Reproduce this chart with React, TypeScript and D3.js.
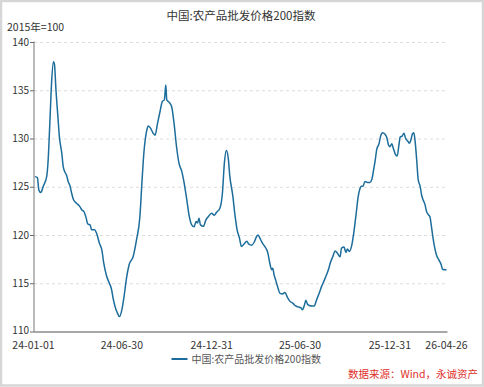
import React from "react";
import * as d3 from "d3";

const title = "中国:农产品批发价格200指数";
const unitLabel = "2015年=100";
const legendLabel = "中国:农产品批发价格200指数";
const sourceLabel = "数据来源：Wind，永诚资产";

const yTicks = [110, 115, 120, 125, 130, 135, 140];
const xTickDates = ["2024-01-01", "2024-06-30", "2024-12-31", "2025-06-30", "2025-12-31", "2026-04-26"];
const xTickLabels = ["24-01-01", "24-06-30", "24-12-31", "25-06-30", "25-12-31", "26-04-26"];

const dates = [
  "2024-01-04","2024-01-09","2024-01-12","2024-01-16","2024-01-21","2024-01-28","2024-01-31","2024-02-04","2024-02-07","2024-02-11",
  "2024-02-13","2024-02-16","2024-02-20","2024-02-23","2024-02-28","2024-03-02","2024-03-06","2024-03-09","2024-03-12","2024-03-16",
  "2024-03-19","2024-03-23","2024-03-29","2024-04-05","2024-04-09","2024-04-13","2024-04-18","2024-04-21","2024-04-26","2024-04-29",
  "2024-05-05","2024-05-09","2024-05-15","2024-05-20","2024-05-24","2024-05-30","2024-06-04","2024-06-09","2024-06-12","2024-06-16",
  "2024-06-21","2024-06-25","2024-06-30","2024-07-04","2024-07-10","2024-07-15","2024-07-23","2024-07-30","2024-08-06","2024-08-10",
  "2024-08-14","2024-08-20","2024-08-23","2024-08-28","2024-09-02","2024-09-06","2024-09-11","2024-09-16","2024-09-21","2024-09-25",
  "2024-09-28","2024-09-30","2024-10-05","2024-10-10","2024-10-15","2024-10-20","2024-10-25","2024-10-31","2024-11-04","2024-11-10",
  "2024-11-15","2024-11-20","2024-11-25","2024-11-29","2024-12-02","2024-12-05","2024-12-08","2024-12-14","2024-12-19","2024-12-24",
  "2024-12-31","2025-01-05","2025-01-10","2025-01-17","2025-01-22","2025-01-26","2025-01-30","2025-02-03","2025-02-06","2025-02-12",
  "2025-02-17","2025-02-21","2025-02-26","2025-03-02","2025-03-07","2025-03-13","2025-03-17","2025-03-23","2025-03-28","2025-04-02",
  "2025-04-05","2025-04-09","2025-04-14","2025-04-19","2025-04-25","2025-04-29","2025-05-03","2025-05-05","2025-05-08","2025-05-11",
  "2025-05-15","2025-05-20","2025-05-25","2025-05-30","2025-06-05","2025-06-09","2025-06-15","2025-06-21","2025-06-26","2025-07-02",
  "2025-07-05","2025-07-09","2025-07-12","2025-07-15","2025-07-19","2025-07-24","2025-07-29","2025-08-03","2025-08-08","2025-08-13",
  "2025-08-19","2025-08-23","2025-08-28","2025-08-30","2025-09-05","2025-09-10","2025-09-14","2025-09-20","2025-09-23","2025-09-28",
  "2025-10-02","2025-10-05","2025-10-09","2025-10-14","2025-10-18","2025-10-23","2025-10-27","2025-10-31","2025-11-03","2025-11-06",
  "2025-11-10","2025-11-15","2025-11-20","2025-11-24","2025-11-27","2025-12-01","2025-12-04","2025-12-09","2025-12-12","2025-12-16",
  "2025-12-21","2025-12-25","2025-12-28","2025-12-31","2026-01-04","2026-01-07","2026-01-12","2026-01-15","2026-01-19","2026-01-21",
  "2026-01-25","2026-01-29","2026-02-01","2026-02-06","2026-02-09","2026-02-12","2026-02-15","2026-02-18","2026-02-20","2026-02-24",
  "2026-02-27","2026-03-03","2026-03-06","2026-03-09","2026-03-13","2026-03-16","2026-03-20","2026-03-23","2026-03-27","2026-03-30",
  "2026-04-02","2026-04-06","2026-04-10","2026-04-15","2026-04-18","2026-04-23","2026-04-26"
];

const values = [
  126.1,126.0,124.7,124.45,125.1,126.1,127.8,132.3,135.8,138.0,
  137.7,135.1,132.3,130.25,128.5,127.1,126.5,126.2,125.6,125.1,
  124.4,123.7,123.35,123.0,122.65,122.5,121.8,121.2,121.1,120.6,
  120.6,120.25,119.2,118.5,117.1,115.75,115.1,114.4,113.5,112.65,
  111.95,111.6,112.3,113.5,115.75,117.0,117.8,119.55,122.0,125.4,
  128.5,130.9,131.35,131.1,130.6,130.4,131.6,132.8,133.9,134.05,
  135.6,134.05,133.8,133.35,131.6,129.2,127.5,126.6,125.6,123.7,
  122.0,121.1,120.9,121.45,121.3,121.8,121.1,120.95,121.6,121.95,
  122.3,122.1,122.4,122.85,124.4,127.5,128.8,128.0,126.2,124.2,
  122.0,120.6,119.7,118.85,119.1,119.4,119.1,119.0,119.3,119.9,
  120.05,119.7,119.2,118.85,118.2,117.15,116.45,116.6,115.9,115.4,
  114.7,114.0,113.95,114.1,113.5,113.2,113.0,112.7,112.6,112.5,
  112.3,112.8,113.3,112.9,112.75,112.7,112.7,113.35,114.0,114.7,
  115.4,115.9,116.6,117.0,117.8,118.4,118.2,117.8,118.7,118.8,
  118.25,118.6,118.35,119.0,120.25,122.3,124.0,124.9,125.1,125.1,
  125.6,125.5,125.5,125.8,126.6,127.8,128.9,129.55,130.3,130.65,
  130.5,130.1,129.4,129.2,129.5,129.05,128.35,128.25,129.55,130.2,
  130.3,130.6,130.1,129.75,129.55,129.9,130.5,130.65,130.1,127.8,
  125.8,125.1,124.2,123.7,123.2,122.5,122.15,121.95,120.6,119.55,
  118.7,117.9,117.5,117.0,116.5,116.45,116.45
];

const W = 484;
const H = 387;
const FONT = "'Noto Sans CJK SC', 'Noto Sans', sans-serif";

export default function App() {
  const parse = d3.timeParse("%Y-%m-%d");
  const data = dates.map((d, i) => ({ date: parse(d) as Date, value: values[i] }));

  const left = 34;
  const right = 446.5;
  const top = 42.5;
  const bottom = 332;

  const x = d3.scaleTime()
    .domain([parse("2024-01-01") as Date, parse("2026-04-26") as Date])
    .range([left - 0.5, right]);
  const y = d3.scaleLinear().domain([110, 140]).range([bottom, top]);

  const line = d3.line<{ date: Date; value: number }>()
    .x((d) => x(d.date))
    .y((d) => y(d.value))
    .curve(d3.curveMonotoneX);

  const lineColor = "#1c6d9b";

  return (
    <svg width={W} height={H} style={{ position: "absolute", left: 0, top: 0, background: "#fff" }} fontFamily={FONT}>
      <rect x={1} y={1} width={W - 2} height={H - 2.5} fill="#fff" stroke="#d6d6d6" strokeWidth={2.5} />
      <text x={241} y={19.5} textAnchor="middle" fontSize={11.5} fill="#333">{title}</text>
      <text x={7} y={31} fontSize={10.5} fill="#333">{unitLabel}</text>

      {yTicks.map((t) => (
        <g key={t}>
          {t !== 110 && (
            <line x1={left} x2={right + 1} y1={y(t)} y2={y(t)} stroke="#dcdcdc" strokeWidth={1} strokeDasharray="3,3" />
          )}
          <line x1={left - 4} x2={left} y1={y(t)} y2={y(t)} stroke="#666" strokeWidth={1} />
          <text x={left - 5} y={y(t) + (t === 110 ? 2 : 3)} textAnchor="end" fontSize={10} fill="#333">{t}</text>
        </g>
      ))}

      <line x1={left} x2={left} y1={top - 1} y2={bottom} stroke="#777" strokeWidth={1} />
      <line x1={left} x2={right + 1} y1={bottom} y2={bottom} stroke="#a8a8a8" strokeWidth={2} />

      {xTickDates.map((d, i) => (
        <text key={d} x={x(parse(d) as Date)} y={bottom + 16.5} textAnchor="middle" fontSize={10.5} fill="#333">
          {xTickLabels[i]}
        </text>
      ))}

      <path d={line(data) || ""} fill="none" stroke={lineColor} strokeWidth={1.5} strokeLinejoin="round" />

      <line x1={171.5} x2={187.5} y1={359} y2={359} stroke={lineColor} strokeWidth={2} />
      <text x={191.5} y={362.5} fontSize={10} fill="#555">{legendLabel}</text>

      <text x={478} y={378} textAnchor="end" fontSize={10.5} fill="#e0302c">{sourceLabel}</text>
    </svg>
  );
}
